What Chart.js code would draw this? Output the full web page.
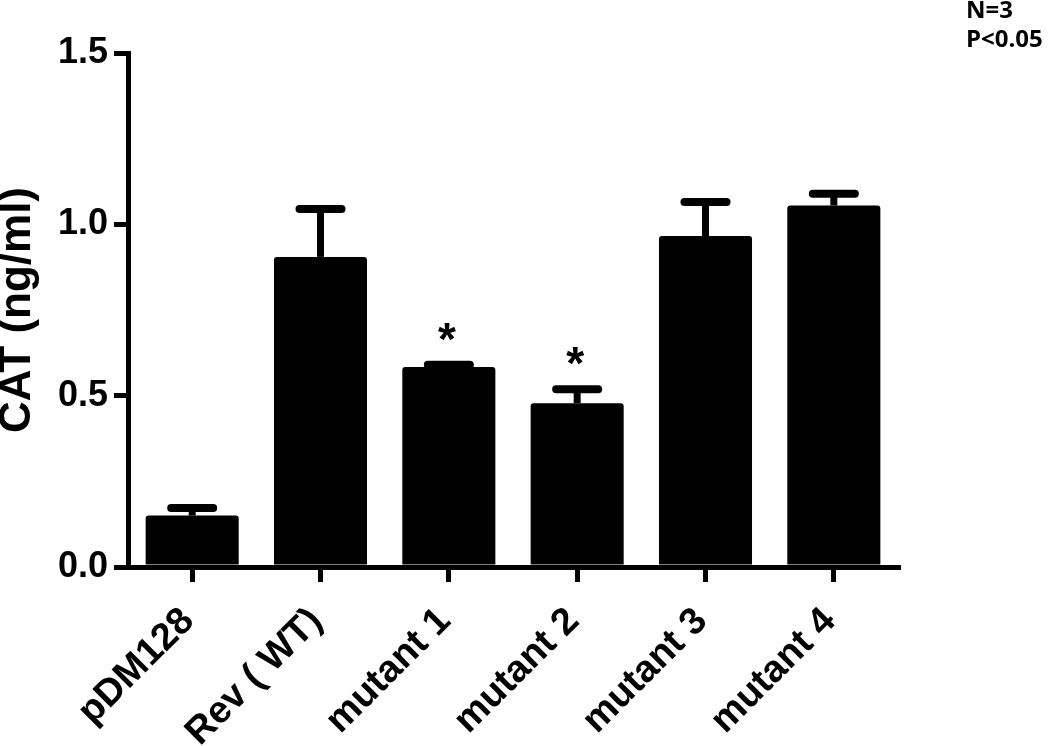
<!DOCTYPE html>
<html>
    <head>
        <script src="https://cdn.jsdelivr.net/npm/chart.js@4/dist/chart.umd.min.js"></script>
        <style>
            body { margin: 0; background: #fff; }
        </style>
    </head>
    <body>
        <div>
            <canvas id="myChart" width="1050" height="746"></canvas>
        </div>
    </body>

    <script>
        // data
        const groups = ['pDM128', 'Rev ( WT)', 'mutant 1', 'mutant 2', 'mutant 3', 'mutant 4']
        const catValues = [0.150, 0.905, 0.584, 0.478, 0.966, 1.055]
        const catErrors = [0.022, 0.140, 0.006, 0.041, 0.099, 0.034]
        const marks = ['', '', '*', '*', '', '']
        const yTicks = [0, 0.5, 1.0, 1.5]
        const notes = ['N=3', 'P<0.05']

        // error bars (upper only) + significance marks
        const errorBars = {
            id: 'errorBars',
            afterDatasetsDraw(chart) {
                const ctx = chart.ctx
                const meta = chart.getDatasetMeta(0)
                const y = chart.scales.y
                ctx.save()
                ctx.strokeStyle = '#000'
                ctx.fillStyle = '#000'
                meta.data.forEach((bar, i) => {
                    const yTop = y.getPixelForValue(catValues[i] + catErrors[i])
                    // stem
                    ctx.lineWidth = 7
                    ctx.lineCap = 'butt'
                    ctx.beginPath()
                    ctx.moveTo(bar.x, bar.y)
                    ctx.lineTo(bar.x, yTop)
                    ctx.stroke()
                    // cap
                    ctx.lineWidth = 8
                    ctx.lineCap = 'round'
                    ctx.beginPath()
                    ctx.moveTo(bar.x - 21, yTop)
                    ctx.lineTo(bar.x + 21, yTop)
                    ctx.stroke()

                    if (marks[i]) {
                        ctx.font = 'bold 46px "Liberation Sans", Arial, sans-serif'
                        ctx.textAlign = 'center'
                        ctx.textBaseline = 'alphabetic'
                        const m = ctx.measureText(marks[i])
                        const h = m.actualBoundingBoxAscent - m.actualBoundingBoxDescent
                        ctx.fillText(marks[i], bar.x - 2, yTop - 33 + h / 2)
                    }
                })
                ctx.restore()
            },
            afterDraw(chart) {
                const ctx = chart.ctx
                ctx.save()
                ctx.fillStyle = '#000'
                ctx.font = 'bold 24px "Open Sans", sans-serif'
                ctx.textAlign = 'left'
                ctx.textBaseline = 'alphabetic'
                notes.forEach((t, i) => {
                    ctx.fillText(t, chart.width - 84, 18 + i * 29)
                })
                ctx.restore()
            }
        }

        const data = {
            labels: groups,
            datasets: [{
                data: catValues,
                backgroundColor: '#000',
                borderWidth: 0,
                borderRadius: 3,
                borderSkipped: 'bottom',
                barPercentage: 0.725,
                categoryPercentage: 1.0
            }]
        }

        const config = {
            type: 'bar',
            data: data,
            plugins: [errorBars],
            options: {
                responsive: false,
                animation: false,
                layout: {
                    padding: { top: 53, right: 152, left: 0, bottom: 0 }
                },
                plugins: {
                    legend: { display: false },
                    tooltip: { enabled: false }
                },
                scales: {
                    x: {
                        offset: true,
                        afterFit: (scale) => { scale.height = 179 },
                        border: { display: true, color: '#000', width: 5 },
                        grid: {
                            offset: false,
                            drawOnChartArea: false,
                            drawTicks: true,
                            tickLength: 15,
                            tickWidth: 5,
                            lineWidth: 5,
                            color: '#000',
                            tickColor: '#000'
                        },
                        ticks: {
                            color: '#000',
                            maxRotation: 45,
                            minRotation: 45,
                            padding: 17,
                            labelOffset: -4,
                            font: { family: '"Liberation Sans", Arial, sans-serif', size: 38, weight: 'bold' }
                        }
                    },
                    y: {
                        min: 0,
                        max: 1.5,
                        afterFit: (scale) => { scale.width = 128 },
                        afterBuildTicks: (scale) => {
                            scale.ticks = yTicks.map(v => ({ value: v }))
                        },
                        border: { display: true, color: '#000', width: 5 },
                        grid: {
                            drawOnChartArea: false,
                            drawTicks: true,
                            tickLength: 14,
                            tickWidth: 5,
                            lineWidth: 5,
                            color: '#000',
                            tickColor: '#000'
                        },
                        ticks: {
                            color: '#000',
                            padding: 6,
                            callback: (v) => Number(v).toFixed(1),
                            font: { family: '"Liberation Sans", Arial, sans-serif', size: 36, weight: 'bold' }
                        },
                        title: {
                            display: true,
                            text: 'CAT (ng/ml)',
                            color: '#000',
                            padding: 0,
                            font: { family: '"Liberation Sans", Arial, sans-serif', size: 44, weight: 'bold', lineHeight: 0.8 }
                        }
                    }
                }
            }
        }

        let myChart = new Chart(document.getElementById('myChart'), config)
    </script>
</html>
